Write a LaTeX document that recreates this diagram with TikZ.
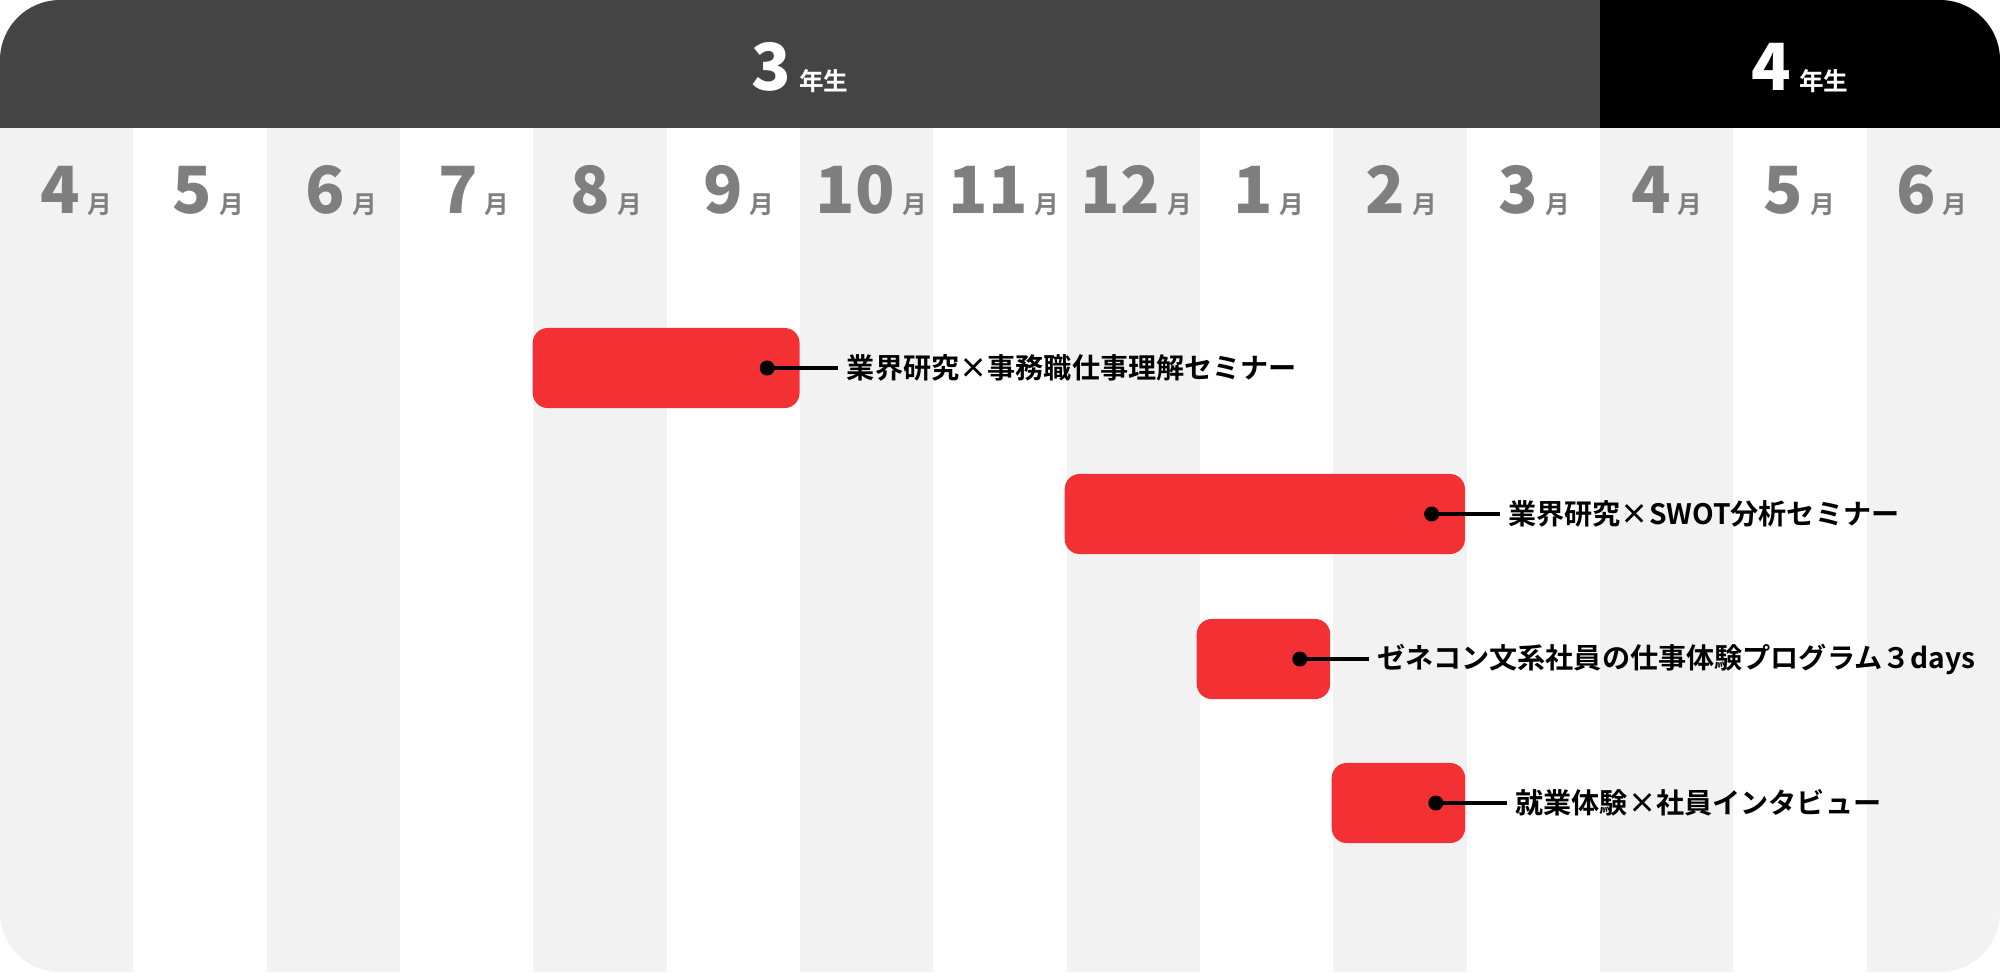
\documentclass[tikz,border=0pt]{standalone}
\usepackage{fontspec}
\usepackage{xcolor}
\usepackage{tikz}
\usetikzlibrary{positioning}

\newfontfamily\jpbold{Noto Sans CJK JP Bold}
\newfontfamily\jpblack{Noto Sans CJK JP Black}

\definecolor{headdark}{HTML}{444444}
\definecolor{colgray}{HTML}{F2F2F2}
\definecolor{monthgray}{HTML}{7F7F7F}
\definecolor{barred}{HTML}{F33033}

\begin{document}
\begin{tikzpicture}[
    x=0.01cm, y=-0.01cm,
    bar/.style={rectangle, fill=barred, rounded corners=0.15cm, minimum height=0.8cm, inner sep=0pt, anchor=west},
    dot/.style={circle, fill=black, inner sep=0pt, minimum size=0.15cm},
    eventlabel/.style={anchor=west, inner ysep=0pt, inner xsep=0.08cm, font=\jpbold\fontsize{8}{8}\selectfont},
    month/.style={anchor=base, inner sep=0pt, text=monthgray},
    year/.style={anchor=base, inner sep=0pt, text=white},
    link/.style={line width=0.04cm},
  ]

  \useasboundingbox (0,0) rectangle (2000,972);

  \begin{scope}
    \clip[rounded corners=0.6cm] (0,0) rectangle (2000,972);
    \fill[white] (0,0) rectangle (2000,972);
    % month columns
    \foreach \m [count=\i from 0] in {4,5,6,7,8,9,10,11,12,1,2,3,4,5,6} {
      \ifodd\i\else
        \fill[colgray] (\i*133.333,128) rectangle ++(133.333,844);
      \fi
      \node[month] (m\i) at (76+\i*132.55,213)
        {{\jpblack\fontsize{18.5}{18.5}\selectfont \m}\hspace{0.07cm}{\jpbold\fontsize{7}{7}\selectfont 月}};
    }
    % year header
    \fill[headdark] (0,0) rectangle (1600,128);
    \fill[black] (1600,0) rectangle (2000,128);
  \end{scope}

  \node[year] (y3) at (800,90)
    {{\jpblack\fontsize{18.5}{18.5}\selectfont 3}\hspace{0.08cm}{\jpbold\fontsize{7}{7}\selectfont 年生}};
  \node[year] (y4) at (1800,90)
    {{\jpblack\fontsize{18.5}{18.5}\selectfont 4}\hspace{0.08cm}{\jpbold\fontsize{7}{7}\selectfont 年生}};

  % events
  \node[bar, minimum width=2.6667cm] (ev1) at (532,368) {};
  \node[bar, minimum width=4cm]      (ev2) at (1064,514) {};
  \node[bar, minimum width=1.3333cm] (ev3) at (1196,659) {};
  \node[bar, minimum width=1.3333cm] (ev4) at (1331,803) {};

  \node[dot] (d1) at ([xshift=-0.33cm]ev1.east) {};
  \node[dot] (d2) at ([xshift=-0.34cm]ev2.east) {};
  \node[dot] (d3) at ([xshift=-0.31cm]ev3.east) {};
  \node[dot] (d4) at ([xshift=-0.30cm]ev4.east) {};

  \node[eventlabel] (t1) at ([xshift=0.71cm]d1.center) {業界研究×事務職仕事理解セミナー};
  \node[eventlabel] (t2) at ([xshift=0.68cm]d2.center) {業界研究×SWOT分析セミナー};
  \node[eventlabel] (t3) at ([xshift=0.69cm]d3.center) {ゼネコン文系社員の仕事体験プログラム３days};
  \node[eventlabel] (t4) at ([xshift=0.71cm]d4.center) {就業体験×社員インタビュー};

  \draw[link] (d1.center) -- (t1.west);
  \draw[link] (d2.center) -- (t2.west);
  \draw[link] (d3.center) -- (t3.west);
  \draw[link] (d4.center) -- (t4.west);

\end{tikzpicture}
\end{document}
